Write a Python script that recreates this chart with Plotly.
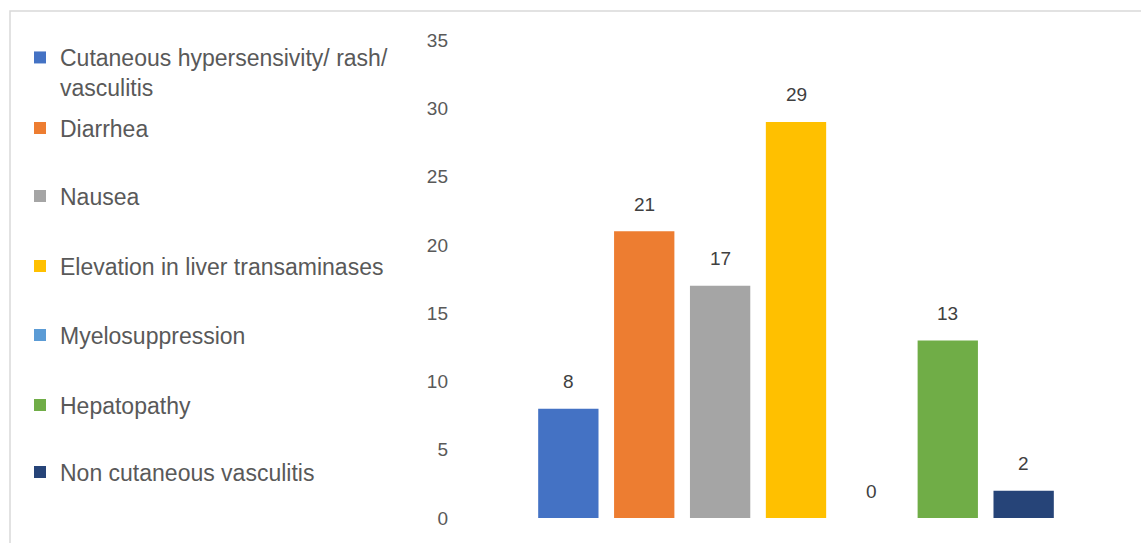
import plotly.graph_objects as go

# ---- data ----
series_names = [
    "Cutaneous hypersensivity/ rash/<br>vasculitis",
    "Diarrhea",
    "Nausea",
    "Elevation in liver transaminases",
    "Myelosuppression",
    "Hepatopathy",
    "Non cutaneous vasculitis",
]
values = [8, 21, 17, 29, 0, 13, 2]
colors = ["#4472C4", "#ED7D31", "#A5A5A5", "#FFC000", "#5B9BD5", "#70AD47", "#264478"]
y_ticks = [0, 5, 10, 15, 20, 25, 30, 35]

# ---- layout geometry (pixels) ----
W, H = 1141, 543
ML, MR, MT, MB = 453, 2, 40, 25
legend_centers_px = [72.5, 128, 196, 266, 335, 405, 472]
legend_left_px = 20

fig = go.Figure()
for i, (name, v, c) in enumerate(zip(series_names, values, colors)):
    fig.add_trace(go.Bar(
        x=[i], y=[v], name=name, marker=dict(color=c, line=dict(width=0)),
        width=0.795,
        legend="legend" if i == 0 else f"legend{i+1}",
        hoverinfo="name+y",
    ))
    fig.add_annotation(
        x=i, y=v, text=str(v), showarrow=False, yanchor="middle", yshift=27,
        font=dict(family="Liberation Sans, Arial", size=19, color="#404040"),
    )

plot_w = W - ML - MR
plot_h = H - MT - MB
def px_x(px):
    return (px - ML) / plot_w
def px_y(py):
    return (H - MB - py) / plot_h

fig.add_shape(type="rect", xref="paper", yref="paper",
              x0=px_x(10), x1=px_x(1180), y0=px_y(600), y1=px_y(11),
              line=dict(color="#D9D9D9", width=1.5), layer="below")

legend_font = dict(family="Liberation Sans, Arial", size=23, color="#595959")
layout_legends = {}
for i, cy in enumerate(legend_centers_px):
    key = "legend" if i == 0 else f"legend{i+1}"
    layout_legends[key] = dict(
        xref="container", yref="container",
        x=legend_left_px / W, y=1 - cy / H,
        xanchor="left", yanchor="middle",
        font=legend_font, valign="top",
        bgcolor="rgba(0,0,0,0)", borderwidth=0,
    )

fig.update_layout(
    width=W, height=H,
    margin=dict(l=ML, r=MR, t=MT, b=MB, pad=0),
    paper_bgcolor="white", plot_bgcolor="white",
    showlegend=True,
    barmode="overlay",
    xaxis=dict(visible=False, range=[-1.52, 7.52]),
    yaxis=dict(range=[0, 35], tickvals=y_ticks, showgrid=False, zeroline=False,
               showline=False, ticks="", ticklabelstandoff=4,
               tickfont=dict(family="Liberation Sans, Arial", size=19, color="#595959")),
    **layout_legends,
)

fig.write_html("out.html")
